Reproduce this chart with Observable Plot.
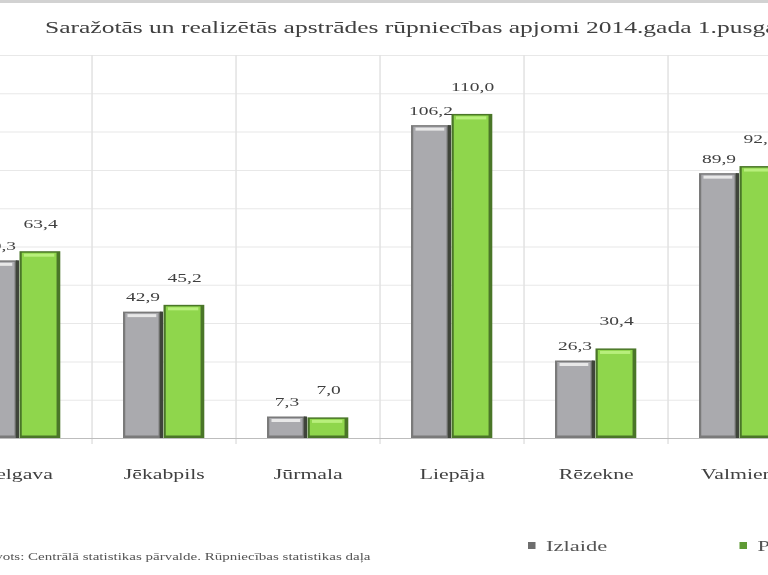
<!DOCTYPE html>
<html><head><meta charset="utf-8">
<script src="https://cdn.jsdelivr.net/npm/d3@7"></script>
<script src="https://cdn.jsdelivr.net/npm/@observablehq/plot@0.6"></script>
<style>
html,body{margin:0;padding:0;background:#fff;overflow:hidden;width:768px;height:575px}
#stage{position:relative;width:512px;height:575px;transform:scaleX(1.5);transform-origin:0 0;font-family:"Liberation Serif","Times New Roman",serif;}
#chart{position:absolute;left:0;top:0}
#topband{position:absolute;left:0;top:0;width:512px;height:3px;background:#d2d2d2}
#title{position:absolute;left:30px;top:18px;font-size:17px;color:#404040;white-space:nowrap}
#caption{position:absolute;right:265px;top:551px;font-size:10px;color:#555;white-space:nowrap}
.leg{position:absolute;top:538px;font-size:15px;color:#555;white-space:nowrap}
.sw{display:inline-block;width:5px;height:7px;margin-right:7px;vertical-align:2px}
</style>
</head><body>
<div id="stage">
  <div id="chart"></div>
  <div id="topband"></div>
  <div id="title">Saražotās un realizētās apstrādes rūpniecības apjomi 2014.gada 1.pusgadā</div>
  <div id="caption">Avots: Centrālā statistikas pārvalde. Rūpniecības statistikas daļa</div>
  <div class="leg" style="left:352px"><span class="sw" style="background:#6e6e6e"></span>Izlaide</div>
  <div class="leg" style="left:493px"><span class="sw" style="background:#5f9a35"></span>Pārdošana</div>
</div>
<script>
const categories = ["Jelgava", "Jēkabpils", "Jūrmala", "Liepāja", "Rēzekne", "Valmiera"];
const seriesNames = ["Izlaide", "Pārdošana"];
const izlaide = [60.3, 42.9, 7.3, 106.2, 26.3, 89.9];
const pardosana = [63.4, 45.2, 7.0, 110.0, 30.4, 92.3];
const gridTicks = [13, 26, 39, 52, 65, 78, 91, 104, 117, 130];

const fmt = v => v.toFixed(1).replace(".", ",");
const grayRows = categories.map((c, i) => ({city: c, series: seriesNames[0], value: izlaide[i]}));
const greenRows = categories.map((c, i) => ({city: c, series: seriesNames[1], value: pardosana[i]}));

const xRange = [-36.3, 541.5];
const bw = (xRange[1] - xRange[0]) / categories.length;

const chart = Plot.plot({
  width: 512,
  height: 500,
  marginTop: 55,
  marginBottom: 62,
  marginLeft: 0,
  marginRight: 0,
  style: {fontFamily: "Liberation Serif, Times New Roman, serif", background: "transparent", overflow: "visible"},
  x: {type: "band", domain: categories, range: xRange, padding: 0, axis: null},
  y: {domain: [0, 130], axis: null},
  marks: [
    Plot.ruleY(gridTicks, {stroke: "#e8e8e8"}),
    Plot.ruleX(categories.slice(1), {x: d => d, dx: -bw / 2, y1: -2, y2: 130, stroke: "#e2e2e2"}),
    Plot.ruleY([0], {stroke: "#bdbdbd"}),
    // Izlaide (gray)
    Plot.barY(grayRows, {x: "city", y: "value", fill: "#7a7a7a", insetLeft: 21, insetRight: bw - 47}),
    Plot.barY(grayRows, {x: "city", y: "value", fill: "#aaaaae", insetLeft: 22.5, insetRight: bw - 45, insetTop: 1.5, insetBottom: 2.5}),
    Plot.barY(grayRows, {x: "city", y: "value", fill: "#3f443a", insetLeft: 45.5, insetRight: bw - 48}),
    Plot.tickY(grayRows, {x: "city", y: "value", dy: 3.5, stroke: "#e8e8e8", strokeWidth: 3, insetLeft: 24, insetRight: bw - 43.5}),
    // Pārdošana (green)
    Plot.barY(greenRows, {x: "city", y: "value", fill: "#4a7628", insetLeft: 48, insetRight: bw - 75.5}),
    Plot.barY(greenRows, {x: "city", y: "value", fill: "#8fd64c", insetLeft: 49.5, insetRight: bw - 73, insetTop: 1.5, insetBottom: 2.5}),
    Plot.tickY(greenRows, {x: "city", y: "value", dy: 3.5, stroke: "#b8ef7c", strokeWidth: 3, insetLeft: 51, insetRight: bw - 71.5}),
    // value labels
    Plot.text(grayRows, {x: "city", y: "value", text: d => fmt(d.value), dx: 34 - bw / 2, dy: -15, fontSize: 13, fill: "#404040"}),
    Plot.text(greenRows, {x: "city", y: "value", text: d => fmt(d.value), dx: 61.75 - bw / 2, dy: -28, fontSize: 13, fill: "#404040"}),
    // category labels
    Plot.text(categories, {x: d => d, y: () => 0, dy: 36, text: d => d, fontSize: 14.5, fill: "#404040"})
  ]
});
document.getElementById("chart").appendChild(chart);
</script>
</body></html>
